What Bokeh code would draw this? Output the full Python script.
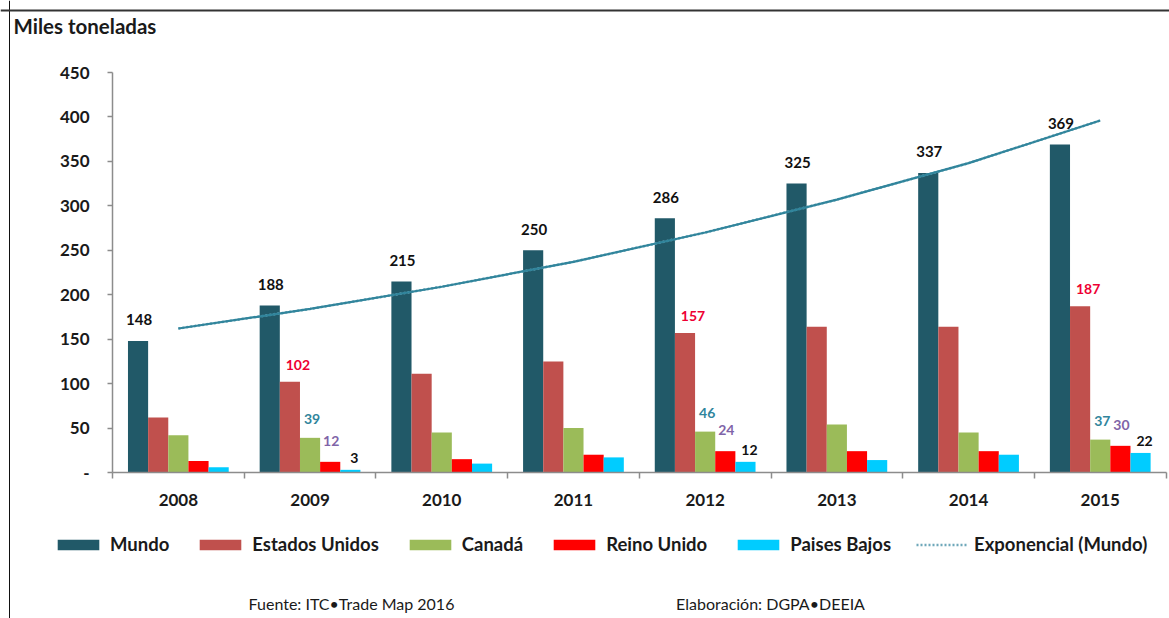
from bokeh.plotting import figure
from bokeh.models import Range1d, FixedTicker, Legend, LegendItem, Label, Span
from bokeh.embed import file_html
from bokeh.resources import INLINE
from bokeh.core.properties import value

# ---------------- data ----------------
years = ["2008", "2009", "2010", "2011", "2012", "2013", "2014", "2015"]
mundo = [148, 188, 215, 250, 286, 325, 337, 369]
estados_unidos = [62, 102, 111, 125, 157, 164, 164, 187]
canada = [42, 39, 45, 50, 46, 54, 45, 37]
reino_unido = [13, 12, 15, 20, 24, 24, 24, 30]
paises_bajos = [6, 3, 10, 17, 12, 14, 20, 22]
tendencia = [162, 184, 209, 237, 270, 307, 348, 396]   # Exponencial (Mundo)
labeled_years = ["2009", "2012", "2015"]
y_ticks = [0, 50, 100, 150, 200, 250, 300, 350, 400, 450]

series_names = ["Mundo", "Estados Unidos", "Canadá", "Reino Unido", "Paises Bajos"]
series_values = [mundo, estados_unidos, canada, reino_unido, paises_bajos]

# ---------------- layout / styles ----------------
W, H = 1169, 618
AX_X0, CAT_PX = 112, 131.7      # pixel of x=0 and pixels per category
AX_Y0, UNIT_PX = 472, 400 / 450  # pixel of y=0 and pixels per unit


def dx(px):
    return (px - AX_X0) / CAT_PX


def dy(py):
    return (AX_Y0 - py) / UNIT_PX


FONT = "Lato"
TXT = "#1A1A1A"
colors = ["#215968", "#C0504D", "#9BBB59", "#FF0000", "#00CCFF"]
label_colors = ["#111111", "#EE0033", "#31859C", "#7F64A8", "#111111"]
label_dx = [1, 8, 2, 1, 4]
label_dy = [-21, -17, -19, -21, -12]
label_sizes = ["15px", "14px", "14px", "14px", "14px"]
BW = 0.153
AXIS_COLOR = "#8C8C8C"

p = figure(width=W, height=H, output_backend="svg", toolbar_location=None,
           x_range=Range1d(dx(0), dx(W)), y_range=Range1d(dy(H), dy(0)),
           min_border_left=0, min_border_right=0, min_border_top=0, min_border_bottom=0)
p.outline_line_color = None
p.xgrid.visible = False
p.ygrid.visible = False
p.background_fill_color = "white"
p.border_fill_color = "white"

# outer frame lines (left and top)
p.add_layout(Span(location=dx(9), dimension="height", line_color="#111111", line_width=1))
p.add_layout(Span(location=dy(10), dimension="width", line_color="#333333", line_width=2))

centers = [i + 0.5 for i in range(len(years))]

legend_items = []
for k, (name, vals, col) in enumerate(zip(series_names, series_values, colors)):
    xs = [c + (k - 2) * BW for c in centers]
    r = p.vbar(x=xs, top=vals, width=BW, fill_color=col, line_color=None)
    legend_items.append(LegendItem(label=name, renderers=[r]))
    if k == 0:
        idx = list(range(len(years)))
    else:
        idx = [years.index(y) for y in labeled_years]
    p.text(x=[xs[i] for i in idx], y=[vals[i] for i in idx], text=[str(vals[i]) for i in idx],
           x_offset=label_dx[k], y_offset=label_dy[k],
           text_align="center", text_baseline="middle",
           text_font=value(FONT), text_font_style="bold", text_font_size=label_sizes[k],
           text_color=label_colors[k])

# exponential trend line: dotted legend sample underneath, solid line drawn on top
trend_legend = p.line(x=centers, y=tendencia, line_color="#6FA8BA", line_width=2.5,
                      line_dash="2 2")
p.line(x=centers, y=tendencia, line_color="#31859C", line_width=2.2)
legend_items.append(LegendItem(label="Exponencial (Mundo)", renderers=[trend_legend]))

# axes (placed at data zero)
p.yaxis.fixed_location = 0
p.yaxis.bounds = (0, 450)
p.yaxis.ticker = FixedTicker(ticks=y_ticks)
p.yaxis.major_label_overrides = {0: "-"}
p.yaxis.major_tick_out = 5
p.yaxis.major_tick_in = 0
p.yaxis.minor_tick_line_color = None
p.yaxis.major_label_standoff = 18
p.yaxis.axis_line_color = AXIS_COLOR
p.yaxis.axis_line_width = 1.5
p.yaxis.major_tick_line_color = AXIS_COLOR
p.yaxis.major_tick_line_width = 1.5

p.xaxis.fixed_location = 0
p.xaxis.bounds = (0, len(years))
p.xaxis.ticker = FixedTicker(ticks=centers, minor_ticks=list(range(len(years) + 1)))
p.xaxis.major_label_overrides = {c: y for c, y in zip(centers, years)}
p.xaxis.major_tick_out = 0
p.xaxis.major_tick_in = 0
p.xaxis.minor_tick_out = 6
p.xaxis.minor_tick_in = 0
p.xaxis.minor_tick_line_color = AXIS_COLOR
p.xaxis.minor_tick_line_width = 1.5
p.xaxis.axis_line_color = AXIS_COLOR
p.xaxis.axis_line_width = 1.5
p.xaxis.major_label_standoff = 15

for ax in (p.xaxis[0], p.yaxis[0]):
    ax.major_label_text_font = FONT
    ax.major_label_text_font_style = "bold"
    ax.major_label_text_font_size = "17px"
    ax.major_label_text_color = TXT

legend = Legend(items=legend_items, orientation="horizontal", location=(48, 59), margin=0,
                glyph_width=52, glyph_height=13, label_height=20,
                label_text_font=FONT, label_text_font_style="bold", label_text_font_size="18.5px",
                label_text_color=TXT, label_standoff=6, spacing=25, padding=4,
                border_line_alpha=0, background_fill_alpha=0)
p.add_layout(legend, "center")

p.add_layout(Label(x=dx(13), y=dy(25), text="Miles toneladas", text_align="left",
                   text_baseline="middle", text_font=FONT, text_font_style="bold",
                   text_font_size="20.5px", text_color=TXT))
p.add_layout(Label(x=dx(351), y=dy(603), text="Fuente: ITC•Trade Map 2016", text_align="center",
                   text_baseline="middle", text_font=FONT, text_font_size="16px",
                   text_color=TXT))
p.add_layout(Label(x=dx(770), y=dy(603), text="Elaboración: DGPA•DEEIA", text_align="center",
                   text_baseline="middle", text_font=FONT, text_font_size="16px",
                   text_color=TXT))

open("out.html", "w").write(file_html(p, INLINE))
